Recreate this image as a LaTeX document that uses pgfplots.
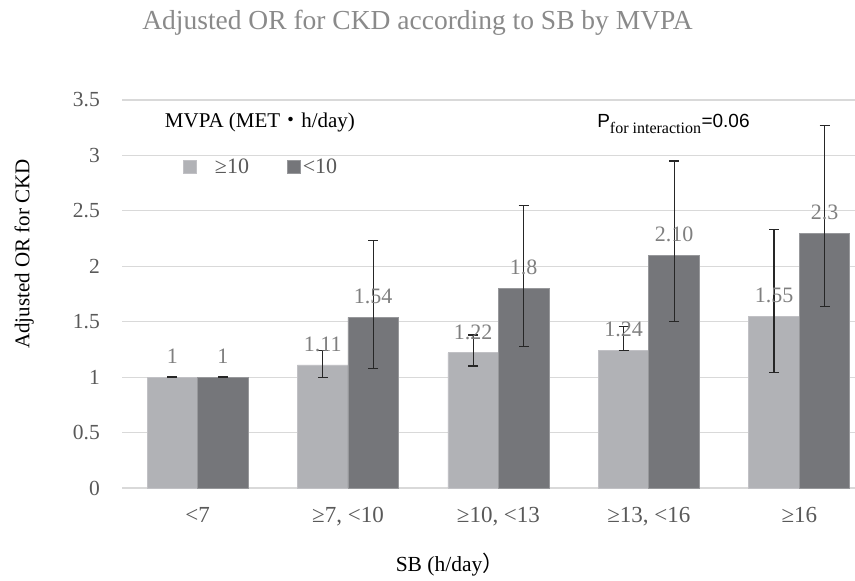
\documentclass[border=0pt]{standalone}
\usepackage{fontspec}
\setmainfont{Liberation Serif}
\newfontfamily\arial{Liberation Sans}
\newfontfamily\jp{Noto Sans CJK JP}
\usepackage{pgfplots}
\usepackage{pgfplotstable}
\pgfplotsset{compat=1.18}
\definecolor{lightbar}{HTML}{B1B2B6}
\definecolor{darkbar}{HTML}{75767A}
\definecolor{gridc}{HTML}{D9D9D9}
\definecolor{ticktxt}{HTML}{595959}
\definecolor{lbltxt}{HTML}{7F7F7F}
\definecolor{titletxt}{HTML}{8A8A8A}
\definecolor{errc}{HTML}{262626}
\pgfplotstableread{
x y ep em lab
0 1.00 0.004 0.004 1
1 1.11 0.13 0.11 1.11
2 1.22 0.16 0.12 1.22
3 1.24 0.22 0.00 1.24
4 1.55 0.78 0.51 1.55
}\lighttab
\pgfplotstableread{
x y ep em lab
0 1.00 0.004 0.004 1
1 1.54 0.69 0.46 1.54
2 1.80 0.75 0.52 1.8
3 2.10 0.85 0.60 2.10
4 2.30 0.97 0.66 2.3
}\darktab
\begin{document}
\begin{tikzpicture}
\begin{axis}[
  scale only axis,
  width=732.7pt, height=388pt,
  ybar=0pt, bar width=50.5pt,
  xmin=-0.5, xmax=4.37,
  ymin=0, ymax=3.5,
  ytick={0,0.5,...,3.5},
  yticklabels={0,0.5,1,1.5,2,2.5,3,3.5},
  xtick={0,1,2,3,4},
  xticklabels={{<7},{≥7, <10},{≥10, <13},{≥13, <16},{≥16}},
  x tick label style={yshift=-16pt, font=\fontsize{23}{26}\selectfont},
  ticklabel style={text=ticktxt},
  y tick label style={xshift=-19pt, font=\fontsize{21.5}{24}\selectfont},
  /pgf/number format/assume math mode=true,
  major tick length=0pt,
  axis line style={draw=none},
  ymajorgrids, grid style={gridc, line width=1.2pt},
  clip=false,
  nodes near coords,
  point meta=explicit symbolic,
  every node near coord/.append style={font=\fontsize{22}{25}\selectfont, text=lbltxt, inner sep=0pt, yshift=13pt},
  error bars/y dir=both,
  error bars/y explicit,
  error bars/error bar style={errc, line width=1.2pt},
  error bars/error mark options={errc, rotate=90, mark size=5pt, line width=1.2pt},
  legend style={draw=none, fill=none, at={(rel axis cs:0.078,0.827)}, anchor=west,
    font=\fontsize{22}{25}\selectfont, text=ticktxt, legend columns=2,
    /tikz/every even column/.append style={column sep=36pt}},
  legend image code/.code={\fill[#1] (0pt,-6.5pt) rectangle (13pt,6.5pt);},
]
\draw[gridc, line width=1.5pt] (rel axis cs:0,0) -- (rel axis cs:1,0);
\addplot[fill=lightbar, draw=lightbar!80!white, line width=0.8pt]
  table[x=x, y=y, y error plus=ep, y error minus=em, meta=lab] {\lighttab};
\addlegendentry{\ \ \ ≥10}
\addplot[fill=darkbar, draw=darkbar!75!white, line width=0.8pt]
  table[x=x, y=y, y error plus=ep, y error minus=em, meta=lab] {\darktab};
\addlegendentry{<10}
\node[anchor=base west, font=\fontsize{21}{24}\selectfont, inner sep=0pt] at (rel axis cs:0.058,0.93) {MVPA (MET{\jp ・}h/day)};
\node[anchor=base west, font=\fontsize{19}{22}\selectfont, inner sep=0pt] at (rel axis cs:0.648,0.928) {{\arial P}\textsubscript{\fontsize{16}{18}\selectfont for interaction}{\arial =0.06}};
\node[font=\fontsize{27.5}{31}\selectfont, text=titletxt] at (rel axis cs:0.403,1.2) {Adjusted OR for CKD according to SB by MVPA};
\node[font=\fontsize{21.5}{25}\selectfont] at (rel axis cs:0.447,-0.198) {SB (h/day{\jp ）}};
\node[font=\fontsize{21}{24}\selectfont, rotate=90] at (rel axis cs:-0.134,0.603) {Adjusted OR for CKD};
\end{axis}
\pgfresetboundingbox
\path[use as bounding box] (-122.3pt,-93pt) rectangle (732.7pt,488pt);
\end{tikzpicture}
\end{document}
